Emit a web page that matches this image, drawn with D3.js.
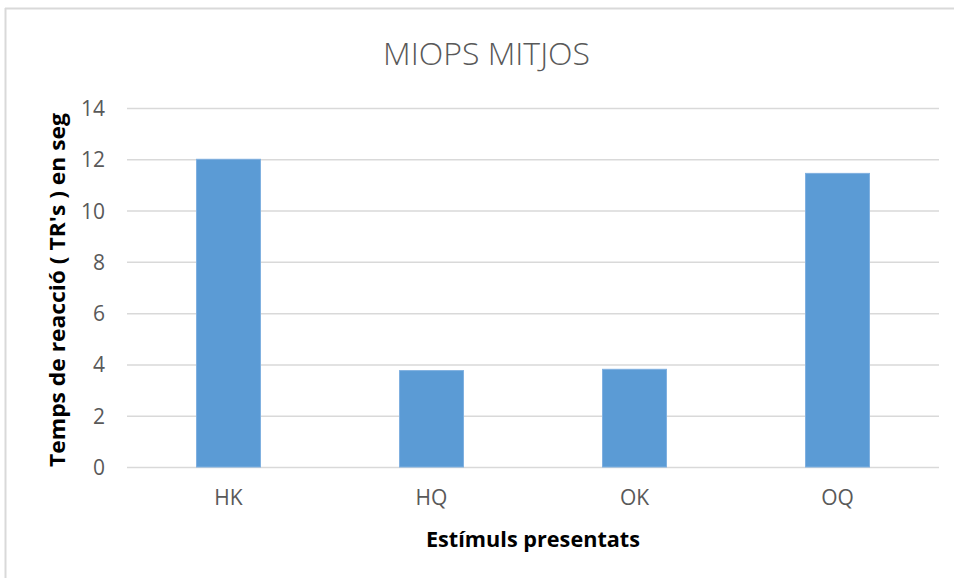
<!DOCTYPE html>
<html>
<head>
<meta charset="utf-8">
<script src="https://cdn.jsdelivr.net/npm/d3@7"></script>
<style>
  html, body { margin: 0; padding: 0; background: #ffffff; }
  svg { display: block; }
</style>
</head>
<body>
<svg id="chart" width="954" height="578"></svg>
<script>
const categories = ["HK", "HQ", "OK", "OQ"];
const values = [12.0, 3.76, 3.81, 11.45];
const yTicks = [0, 2, 4, 6, 8, 10, 12, 14];
const title = "MIOPS MITJOS";
const xTitle = "Estímuls presentats";
const yTitle = "Temps de reacció ( TR's ) en seg";

const svg = d3.select("#chart");
const W = 954, H = 578;
const plot = { left: 127, right: 939, top: 108, bottom: 467 };
const font = "'Open Sans', 'Liberation Sans', sans-serif";

// frame
svg.append("line").attr("x1", 5).attr("x2", W).attr("y1", 8.5).attr("y2", 8.5)
  .attr("stroke", "#d9d9d9").attr("stroke-width", 2);
svg.append("line").attr("x1", 5.5).attr("x2", 5.5).attr("y1", 8).attr("y2", H)
  .attr("stroke", "#d9d9d9").attr("stroke-width", 2);

const x = d3.scaleBand().domain(categories)
  .range([plot.left, plot.right]).paddingInner(0.685).paddingOuter(0.3425);
const y = d3.scaleLinear().domain([0, 14]).range([plot.bottom, plot.top]);

// gridlines
const yAxis = d3.axisLeft(y).tickValues(yTicks).tickSize(-(plot.right - plot.left)).tickPadding(22);
const gy = svg.append("g").attr("transform", `translate(${plot.left},0)`).call(yAxis);
gy.select(".domain").remove();
gy.selectAll(".tick line").attr("stroke", "#d9d9d9").attr("stroke-width", 1.5);
gy.selectAll(".tick text").attr("fill", "#595959").attr("font-family", font)
  .attr("font-size", 21).attr("dy", "0.36em");

// bars
svg.append("g").selectAll("rect").data(values).join("rect")
  .attr("x", (d, i) => x(categories[i]))
  .attr("width", x.bandwidth())
  .attr("y", d => y(d))
  .attr("height", d => y(0) - y(d))
  .attr("fill", "#5b9bd5")
  .attr("stroke", "#7fb0e0").attr("stroke-width", 1);

// x axis labels
const xAxis = d3.axisBottom(x).tickSize(0).tickPadding(0);
const gx = svg.append("g").attr("transform", `translate(0,${plot.bottom})`).call(xAxis);
gx.select(".domain").remove();
gx.selectAll(".tick text").attr("fill", "#595959").attr("font-family", font)
  .attr("font-size", 21).attr("y", 38).attr("dy", 0);

// title
svg.append("text").attr("x", 486.5).attr("y", 65).attr("text-anchor", "middle")
  .attr("font-family", font).attr("font-weight", 300).attr("font-size", 32)
  .attr("fill", "#595959").text(title);

// axis titles
svg.append("text").attr("x", 533).attr("y", 547).attr("text-anchor", "middle")
  .attr("font-family", font).attr("font-weight", 700).attr("font-size", 22)
  .attr("textLength", 214).attr("lengthAdjust", "spacingAndGlyphs")
  .attr("fill", "#000000").text(xTitle);

svg.append("text").attr("transform", "translate(65,290) rotate(-90)")
  .attr("text-anchor", "middle")
  .attr("font-family", font).attr("font-weight", 700).attr("font-size", 22)
  .attr("textLength", 354).attr("lengthAdjust", "spacingAndGlyphs")
  .attr("fill", "#000000").text(yTitle);
</script>
</body>
</html>
